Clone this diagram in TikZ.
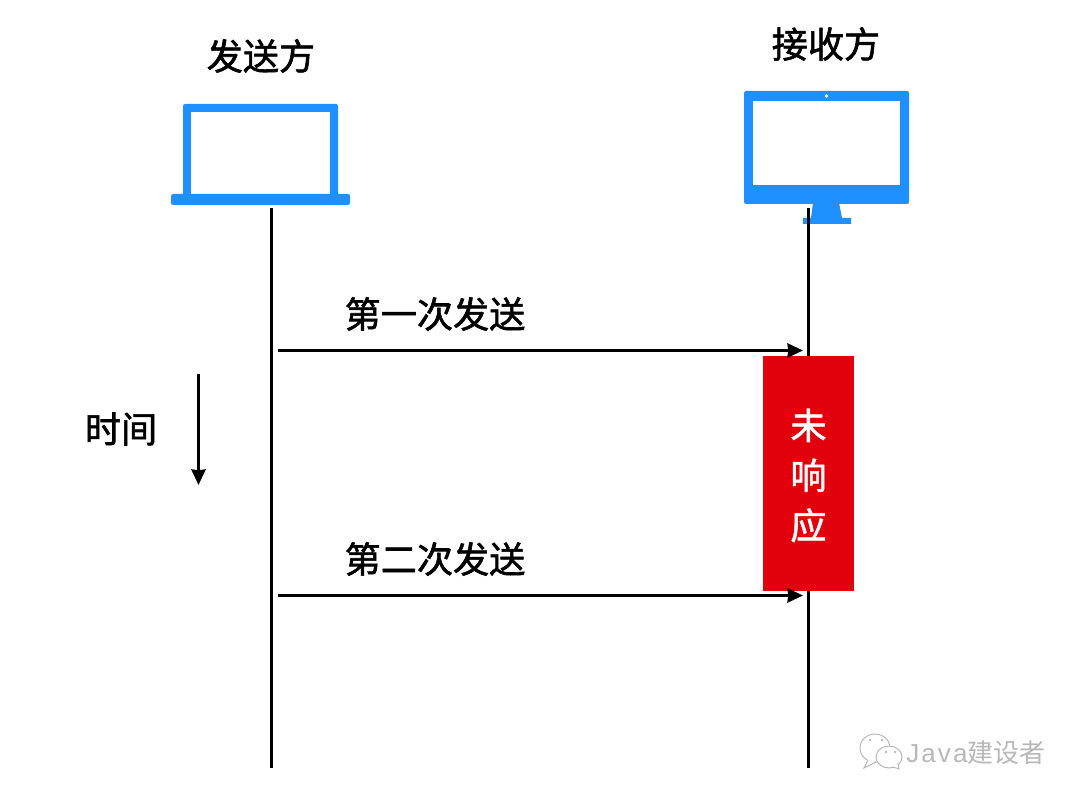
\documentclass[tikz,border=0pt]{standalone}
\usepackage{fontspec}
\usepackage{xcolor}
\usetikzlibrary{arrows.meta, positioning}
\setmainfont[FakeBold=1.6]{Noto Sans CJK SC}
\newfontfamily\markcjk{Noto Sans CJK SC}
\newfontfamily\latinmark[LetterSpace=8]{Liberation Sans}
\definecolor{devblue}{HTML}{1E90FF}
\definecolor{waitred}{HTML}{E2000C}
\definecolor{markgray}{HTML}{B8B8B8}

\begin{document}
\begin{tikzpicture}[x=0.025cm, y=-0.025cm, >={Stealth[length=11pt, width=10pt, inset=0.5pt]}, font=\fontsize{25.7}{30}\selectfont,
    devfill/.style={fill=devblue, draw=none, rounded corners=1.5pt},
    devscreen/.style={fill=white, draw=none},
    lifeline/.style={line width=2.13pt},
    msgarrow/.style={->, line width=2.13pt},
    plainlabel/.style={inner sep=0pt},
    bubble/.style={draw=markgray, line width=0.7pt, fill=white},
    bubbledot/.style={circle, fill=markgray, inner sep=0pt, minimum size=2pt}]
    \path[use as bounding box, fill=white] (0,0) rectangle (1080,800);

    % sender: laptop
    \node[plainlabel] (sendertitle) at (261,56) {发送方};
    \fill[devfill] (183,104) rectangle (338,198);
    \fill[devscreen] (191,112) rectangle (330,194);
    \fill[devfill] (171,194) rectangle (350,205);

    % receiver: monitor
    \node[plainlabel] (receivertitle) at (826,44) {接收方};
    \fill[devblue] (813,203) -- (839,203) -- (842,218) -- (851,218) -- (851,224) -- (803,224) -- (803,218) -- (811,218) -- cycle;
    \fill[devfill] (744,91) rectangle (909,204);
    \fill[devscreen] (753,101) rectangle (900,185);
    \node[circle, fill=white, inner sep=0pt, minimum size=2.8pt] (camera) at (826.5,96) {};

    % lifelines
    \coordinate (sendertop) at (271.5,208);
    \coordinate (senderend) at (271.5,768);
    \coordinate (receivertop) at (808.5,208);
    \coordinate (receiverend) at (808.5,768);
    \draw[lifeline] (sendertop) -- (senderend);
    \draw[lifeline] (receivertop) -- (receiverend);

    % waiting block
    \node[fill=waitred, inner sep=0pt, minimum width=91*0.025cm, minimum height=235*0.025cm] (noreply) at (808.5,473.5) {};
    \node[plainlabel, text=white, align=center, font=\fontsize{25.7}{35.56}\selectfont] (noreplylabel) at (808.5,475.5) {未\\响\\应};

    % messages
    \coordinate (firststart) at (278,350.5);
    \coordinate (firstend) at (803,350.5);
    \coordinate (secondstart) at (278,595.5);
    \coordinate (secondend) at (803,595.5);
    \draw[msgarrow] (firststart) -- (firstend);
    \draw[msgarrow] (secondstart) -- (secondend);
    \node[plainlabel] (firstlabel) at (435,314) {第一次发送};
    \node[plainlabel] (secondlabel) at (435,559) {第二次发送};

    % time
    \node[plainlabel] (timelabel) at (121,429) {时间};
    \coordinate (timestart) at (198.5,374);
    \coordinate (timeend) at (198.5,485);
    \draw[msgarrow] (timestart) -- (timeend);

    % watermark
    \draw[bubble] (875,748) ellipse (15 and 14);
    \draw[bubble] (868,760) -- (864,768) -- (876,762);
    \draw[bubble] (889,757) ellipse (13 and 11);
    \draw[bubble] (893,767) -- (899,769) -- (898,763);
    \node[bubbledot] (dota) at (870,740) {};
    \node[bubbledot] (dotb) at (882,740) {};
    \node[bubbledot] (dotc) at (886,752) {};
    \node[bubbledot] (dotd) at (895,752) {};
    \node[inner sep=0pt, anchor=west, text=markgray, font=\fontsize{18.5}{20}\selectfont] (marktext) at (906,753) {{\latinmark Java}{\markcjk 建设者}};
\end{tikzpicture}
\end{document}
